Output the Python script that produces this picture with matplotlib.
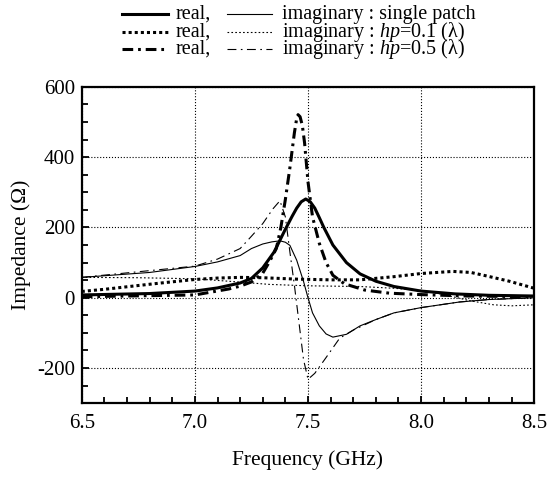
import matplotlib
matplotlib.use("Agg")
import matplotlib.pyplot as plt
from matplotlib.lines import Line2D
from matplotlib.ticker import MultipleLocator

plt.rcParams['font.family'] = ['Liberation Serif', 'DejaVu Serif']
plt.rcParams['mathtext.fontset'] = 'custom'
plt.rcParams['mathtext.rm'] = 'Liberation Serif'
plt.rcParams['mathtext.it'] = 'Liberation Serif:italic'
plt.rcParams['axes.unicode_minus'] = False

# single patch
f_sp_re = [6.5, 6.8, 7.0, 7.1, 7.2, 7.25, 7.3, 7.35, 7.4, 7.43, 7.45, 7.47, 7.49,
           7.51, 7.53, 7.55, 7.57, 7.61, 7.67, 7.73, 7.8, 7.88, 8.0, 8.15, 8.3, 8.5]
sp_re = [8, 12, 19, 28, 42, 55, 85, 130, 195, 232, 255, 273, 281,
         273, 255, 228, 200, 150, 100, 68, 47, 32, 19, 11, 7, 5]
f_sp_im = [6.5, 6.8, 7.0, 7.1, 7.2, 7.25, 7.3, 7.34, 7.376, 7.4, 7.42, 7.45, 7.48,
           7.5, 7.52, 7.55, 7.58, 7.61, 7.67, 7.73, 7.8, 7.88, 8.0, 8.17, 8.3, 8.5]
sp_im = [58, 72, 89, 102, 120, 140, 153, 159, 162, 158, 149, 107, 47,
         0, -43, -80, -103, -112, -104, -80, -62, -43, -28, -12, -5, 0]

# hp = 0.1 lambda
f_h1_re = [6.5, 6.6, 6.71, 6.85, 7.0, 7.1, 7.2, 7.3, 7.45, 7.6, 7.73, 7.88, 8.0,
           8.14, 8.22, 8.29, 8.39, 8.5]
h1_re = [18, 24, 32, 42, 52, 56, 58, 57, 53, 51, 51, 60, 69,
         75, 72, 62, 47, 27]
f_h1_im = [6.5, 6.75, 7.0, 7.15, 7.33, 7.5, 7.73, 7.88, 8.0, 8.1, 8.22, 8.32, 8.4, 8.5]
h1_im = [58, 57, 54, 47, 38, 34, 32, 27, 21, 9, -9, -20, -23, -20]

# hp = 0.5 lambda
f_h5_re = [6.5, 7.0, 7.15, 7.2, 7.25, 7.3, 7.33, 7.36, 7.38, 7.4, 7.42, 7.44, 7.45,
           7.456, 7.465, 7.475, 7.485, 7.5, 7.52, 7.55, 7.58, 7.61, 7.66, 7.75, 7.86,
           8.0, 8.2, 8.5]
h5_re = [3, 8, 25, 33, 45, 70, 103, 140, 200, 280, 370, 470, 510,
         521, 515, 490, 440, 330, 230, 155, 100, 64, 40, 22, 13,
         9, 5, 3]
f_h5_im = [6.5, 7.0, 7.1, 7.2, 7.25, 7.3, 7.345, 7.376, 7.4, 7.42, 7.44, 7.46, 7.48,
           7.5, 7.53, 7.58, 7.64, 7.7, 7.8, 7.88, 8.0, 8.17, 8.3, 8.5]
h5_im = [58, 90, 110, 140, 175, 211, 253, 276, 230, 130, 35, -70, -175,
         -232, -215, -170, -115, -92, -62, -43, -28, -12, -5, 0]

labels = ["single patch", r"$hp$=0.1 (λ)", r"$hp$=0.5 (λ)"]

thick = dict(color='black', lw=2.2)
thin = dict(color='black', lw=0.8)
re_dash = [None, (1.0, 1.0), (3.5, 1.6, 0.9, 1.6)]
im_dash = [None, (1.5, 2.0), (8, 4, 1.5, 4)]

fig = plt.figure(figsize=(5.6, 4.8), dpi=100)
ax = fig.add_axes([0.146, 0.16, 0.808, 0.659])

series = [(f_sp_re, sp_re, f_sp_im, sp_im),
          (f_h1_re, h1_re, f_h1_im, h1_im),
          (f_h5_re, h5_re, f_h5_im, h5_im)]
for i, (fr, re, fi, im) in enumerate(series):
    l1, = ax.plot(fr, re, **thick)
    l2, = ax.plot(fi, im, **thin)
    if re_dash[i]:
        l1.set_dashes(re_dash[i])
    if im_dash[i]:
        l2.set_dashes(im_dash[i])

ax.set_xlim(6.5, 8.5)
ax.set_ylim(-300, 600)
ax.xaxis.set_major_locator(MultipleLocator(0.5))
ax.xaxis.set_minor_locator(MultipleLocator(0.1))
ax.yaxis.set_major_locator(MultipleLocator(200))
ax.yaxis.set_minor_locator(MultipleLocator(50))
ax.xaxis.set_major_formatter(plt.FuncFormatter(lambda x, _: f'{x:.1f}'))
ax.tick_params(which='both', direction='in', top=False, right=False, labelsize=15, width=1.3)
ax.tick_params(axis='x', which='major', length=5, pad=8)
ax.tick_params(axis='y', which='major', length=5, pad=5)
ax.tick_params(which='minor', length=4)
ax.grid(True, which='major', color='black', ls=':', lw=0.8)
for s in ax.spines.values():
    s.set_linewidth(1.6)
ax.set_xlabel('Frequency (GHz)', fontsize=15.5, labelpad=12)
ax.set_ylabel('Impedance (Ω)', fontsize=15.5, labelpad=4)

# legend drawn as three rows: thick real line, thin imaginary line
rows_y = [0.970, 0.934, 0.898]
for i, y in enumerate(rows_y):
    a = Line2D([0.218, 0.300], [y, y], transform=fig.transFigure, **thick)
    b = Line2D([0.405, 0.486], [y, y], transform=fig.transFigure, **thin)
    if re_dash[i]:
        a.set_dashes(re_dash[i])
    if im_dash[i]:
        b.set_dashes(im_dash[i])
    fig.add_artist(a)
    fig.add_artist(b)
    fig.text(0.314, y, "real,", fontsize=14.5, va='center')
    fig.text(0.504, y, "imaginary : " + labels[i], fontsize=14.5, va='center')

fig.savefig("out.png", dpi=100)
